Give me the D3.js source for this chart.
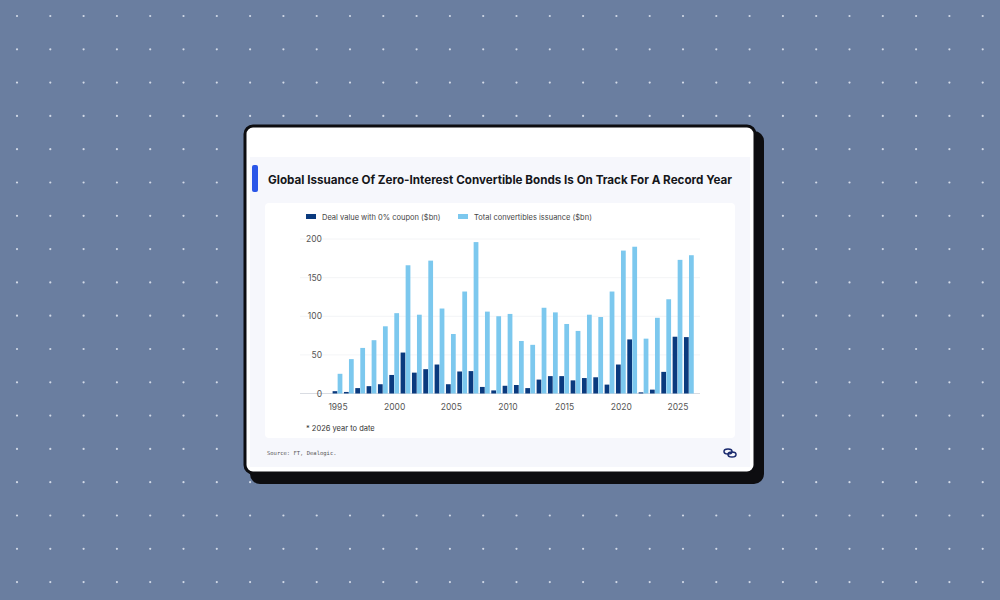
<!DOCTYPE html>
<html><head><meta charset="utf-8">
<script src="https://cdn.jsdelivr.net/npm/d3@7"></script>
<style>body{margin:0;background:#6a7ea0}svg{display:block}</style>
</head><body>
<svg id="c" width="1000" height="600"></svg>
<script>
var years = d3.range(1995, 2027);
var zeroCoupon = [3,2,7,9.5,12,24,53,27,31.5,37.5,12,28.5,29,8.5,4,10,11,7,18,22.5,22.5,17,20,21,11.5,37.5,70,1.5,5,28,73.5,73];
var totalIssuance = [25.5,44.5,59,69,87,104,166,102,172,110,77,132,196,106,100,103,68,63,111,105,90,81,102,99,132,185,190,71,98,122,173,179];
var yTicks = [0,50,100,150,200];
var xTicks = [1995,2000,2005,2010,2015,2020,2025];

var svg = d3.select("#c");
var font = "Inter, 'Noto Sans', sans-serif";

// dotted background
var dots = svg.append("g");
for (var gx = 17; gx < 1000; gx += 33.3) {
  for (var gy = 16; gy < 600; gy += 33.3) {
    dots.append("circle").attr("cx", gx).attr("cy", gy).attr("r", 1.1).attr("fill", "#e4e9f2").attr("opacity", 0.85);
  }
}

// card
svg.append("rect").attr("x", 250).attr("y", 131).attr("width", 514).attr("height", 353).attr("rx", 10).attr("fill", "#0d0d10");
svg.append("rect").attr("x", 245).attr("y", 126).attr("width", 510).attr("height", 347).attr("rx", 8).attr("fill", "#fff").attr("stroke", "#0d0d10").attr("stroke-width", 3);
svg.append("rect").attr("x", 250).attr("y", 157).attr("width", 500).attr("height", 310).attr("fill", "#f6f7fc");
svg.append("rect").attr("x", 252).attr("y", 165).attr("width", 6).attr("height", 27).attr("rx", 2).attr("fill", "#2a56e8");
svg.append("text").attr("x", 268).attr("y", 183.5).attr("font-family", font).attr("font-weight", 700)
  .attr("font-size", 12).attr("textLength", 464).attr("lengthAdjust", "spacingAndGlyphs")
  .attr("fill", "#15161a").text("Global Issuance Of Zero-Interest Convertible Bonds Is On Track For A Record Year");
svg.append("rect").attr("x", 265).attr("y", 203).attr("width", 470).attr("height", 235).attr("rx", 4).attr("fill", "#fff");

// legend
svg.append("rect").attr("x", 306).attr("y", 214).attr("width", 10).attr("height", 5).attr("fill", "#0a3a7e");
svg.append("text").attr("x", 322).attr("y", 220).attr("font-family", font).attr("font-size", 7.5).attr("fill", "#444").text("Deal value with 0% coupon ($bn)");
svg.append("rect").attr("x", 458).attr("y", 214).attr("width", 10).attr("height", 5).attr("fill", "#7cc8ee");
svg.append("text").attr("x", 474).attr("y", 220).attr("font-family", font).attr("font-size", 7.5).attr("fill", "#444").text("Total convertibles issuance ($bn)");

var x = d3.scaleBand().domain(years).range([332.3, 695]).padding(0);
var y = d3.scaleLinear().domain([0, 200]).range([393.5, 239]);

var g = svg.append("g");
g.selectAll(".grid").data(yTicks).join("line").attr("x1", 300).attr("x2", 700)
  .attr("y1", function (d) { return y(d); }).attr("y2", function (d) { return y(d); })
  .attr("stroke", function (d) { return d === 0 ? "#cfd3da" : "#f0f1f4"; }).attr("stroke-width", 0.8);

var yAxis = d3.axisLeft(y).tickValues(yTicks).tickSize(0).tickPadding(0);
g.append("g").attr("transform", "translate(322,0)").call(yAxis)
  .call(function (s) { s.select(".domain").remove(); s.selectAll("text").attr("font-family", font).attr("font-size", 8.5).attr("fill", "#555"); });

var xAxis = d3.axisBottom(x).tickValues(xTicks).tickSize(0).tickPadding(0);
g.append("g").attr("transform", "translate(0,404)").call(xAxis)
  .call(function (s) { s.select(".domain").remove(); s.selectAll("text").attr("font-family", font).attr("font-size", 8.5).attr("fill", "#555"); });

var bw = x.bandwidth();
g.selectAll(".dark").data(years).join("rect")
  .attr("x", function (d) { return x(d) + 0.3; }).attr("width", bw * 0.42)
  .attr("y", function (d, i) { return y(zeroCoupon[i]); })
  .attr("height", function (d, i) { return y(0) - y(zeroCoupon[i]); }).attr("fill", "#0a3a7e");
g.selectAll(".light").data(years).join("rect")
  .attr("x", function (d) { return x(d) + bw * 0.47; }).attr("width", bw * 0.42)
  .attr("y", function (d, i) { return y(totalIssuance[i]); })
  .attr("height", function (d, i) { return y(0) - y(totalIssuance[i]); }).attr("fill", "#7cc8ee");

svg.append("text").attr("x", 306).attr("y", 431).attr("font-family", font).attr("font-size", 7.5).attr("fill", "#333").text("* 2026 year to date");
svg.append("text").attr("x", 267).attr("y", 455).attr("font-family", "'DejaVu Sans Mono', monospace").attr("font-size", 5.5).attr("fill", "#555").text("Source: FT, Dealogic.");

// logo
var logo = svg.append("g").attr("transform", "translate(730,453)").attr("fill", "none").attr("stroke", "#1a2a6e").attr("stroke-width", 1.5);
logo.append("ellipse").attr("cx", -2).attr("cy", -1.5).attr("rx", 4).attr("ry", 2.5);
logo.append("ellipse").attr("cx", 2).attr("cy", 1.5).attr("rx", 4).attr("ry", 2.5);
</script>
</body></html>
